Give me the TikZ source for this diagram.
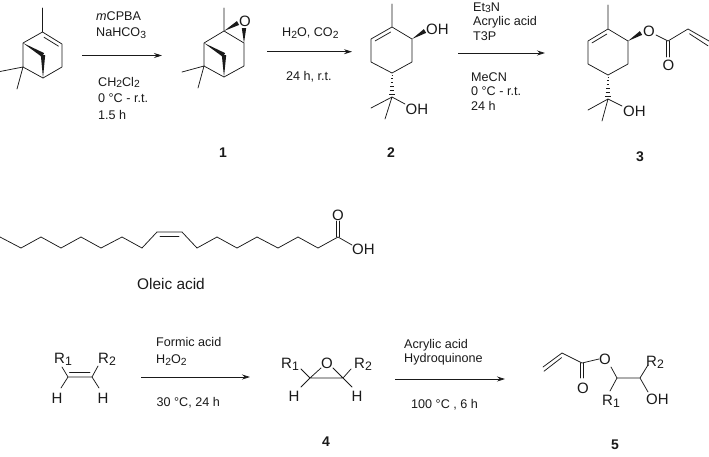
\documentclass[tikz,border=0pt]{standalone}
\usepackage{fontspec}
\setmainfont{Liberation Sans}
\usetikzlibrary{calc,arrows.meta}
\newcommand{\lsub}[1]{\raisebox{-0.28ex}{\scalebox{0.82}{#1}}}
\newcommand{\wedgeb}[3]{\fill[inkc] (#1) -- ($(#2)!#3pt!90:(#1)$) -- ($(#2)!#3pt!-90:(#1)$) -- cycle;}
\newcommand{\hashb}[2]{\foreach \t in {0.08,0.24,0.4,0.56,0.72,0.88}{\draw[inkc,line width=0.7pt] ($(#1)!\t!(#2)+(-\t*3.4,0)$) -- ($(#1)!\t!(#2)+(\t*3.4,0)$);}}
\definecolor{inkc}{HTML}{1A1A1A}
\tikzset{
  bond/.style={draw=inkc,line width=0.75pt,line cap=round,line join=round},
  rxn/.style={draw=inkc,line width=0.8pt,-{Stealth[length=8pt,width=5pt]}},
  cond/.style={anchor=base west,inner sep=0pt,text=inkc,font=\fontsize{12.6}{14}\selectfont},
  atomlab/.style={anchor=base west,inner sep=0pt,text=inkc,font=\fontsize{15}{16}\selectfont},
  atomc/.style={anchor=center,inner sep=0pt,text=inkc,font=\fontsize{15}{16}\selectfont},
  cmpd/.style={anchor=center,inner sep=0pt,text=inkc,font=\fontsize{14}{16}\bfseries\selectfont},
}
\begin{document}
\begin{tikzpicture}[x=1pt,y=-1pt]
\useasboundingbox (0,0) rectangle (709,456);
\fill[white] (0,0) rectangle (709,456);

% --- pinene
\coordinate (pm) at (42.5,8);
\coordinate (p1) at (42.5,32);
\coordinate (p2) at (62,44);
\coordinate (p3) at (62,67);
\coordinate (p4) at (43,78);
\coordinate (p5) at (23,67);
\coordinate (p6) at (23,43);
\coordinate (pt) at (43,55);
\coordinate (pa) at (0,71.5);
\coordinate (pb) at (17,89);
\draw[bond] (pm)--(p1)--(p2)--(p3)--(p4)--(p5)--(p6)--(p1);
\draw[bond] (p5)--(pa) (p5)--(pb);
\draw[bond] ($(p1)!0.14!(p2)+(-1.2,3.6)$)--($(p1)!0.88!(p2)+(-1.2,3.6)$);
\wedgeb{p6}{pt}{2.2}
\wedgeb{p4}{pt}{2.2}

% --- compound 1
\coordinate (am) at (224,8);
\coordinate (a1) at (224,31);
\coordinate (a2) at (244,43);
\coordinate (a3) at (244,66);
\coordinate (a4) at (224,77);
\coordinate (a5) at (204,66);
\coordinate (a6) at (204,43);
\coordinate (at) at (224,55);
\coordinate (ax) at (182,72);
\coordinate (ay) at (198,88);
\node[atomc] (ao) at (245,21) {O};
\draw[bond] (am)--(a1)--(a2)--(a3)--(a4)--(a5)--(a6)--(a1);
\draw[bond] (a5)--(ax) (a5)--(ay);
\wedgeb{a6}{at}{2.2}
\wedgeb{a4}{at}{2.2}
\coordinate (aw1) at (238,23);
\coordinate (aw2) at (244,28);
\wedgeb{a1}{aw1}{2.2}
\wedgeb{a2}{aw2}{2.2}
\node[cmpd] (l1) at (223,153) {1};

% --- compound 2
\coordinate (bm) at (392,4);
\coordinate (b1) at (392,27);
\coordinate (b2) at (412,39);
\coordinate (b3) at (412,62);
\coordinate (b4) at (392,73);
\coordinate (b5) at (371,62);
\coordinate (b6) at (371,39);
\coordinate (bw) at (425,31);
\coordinate (bq) at (392,97);
\coordinate (bx) at (371,108);
\coordinate (by) at (385,119);
\coordinate (bz) at (405,104);
\draw[bond] (bm)--(b1)--(b2)--(b3)--(b4)--(b5)--(b6)--(b1);
\draw[bond] ($(b1)!0.12!(b6)+(1.2,3.6)$)--($(b1)!0.86!(b6)+(1.2,3.6)$);
\wedgeb{b2}{bw}{2.2}
\hashb{b4}{bq}
\draw[bond] (bx)--(bq)--(by) (bq)--(bz);
\node[atomlab] (boh1) at (426,34.5) {OH};
\node[atomlab] (boh2) at (405.5,114.5) {OH};
\node[cmpd] (l2) at (391,153) {2};

% --- compound 3
\coordinate (cm) at (608,5);
\coordinate (c1) at (608,29);
\coordinate (c2) at (628,41);
\coordinate (c3) at (628,64);
\coordinate (c4) at (608,75);
\coordinate (c5) at (588,64);
\coordinate (c6) at (588,41);
\coordinate (cw) at (641,33);
\coordinate (cq) at (608,99);
\coordinate (cx) at (588,110);
\coordinate (cy) at (602,121);
\coordinate (cz) at (622,106);
\coordinate (cc) at (668,41);
\coordinate (cv) at (688,29);
\coordinate (ce) at (709,41);
\coordinate (coa) at (656,35);
\coordinate (cob) at (668,57);
\draw[bond] (cm)--(c1)--(c2)--(c3)--(c4)--(c5)--(c6)--(c1);
\draw[bond] ($(c1)!0.12!(c6)+(1.2,3.6)$)--($(c1)!0.86!(c6)+(1.2,3.6)$);
\wedgeb{c2}{cw}{2.2}
\hashb{c4}{cq}
\draw[bond] (cx)--(cq)--(cy) (cq)--(cz);
\node[atomc] (co1) at (649,31) {O};
\node[atomc] (co2) at (668.5,65) {O};
\draw[bond] (coa)--(cc)--(cv)--(ce);
\draw[bond] ($(cv)+(1.5,4.8)$)--($(ce)+(-1,4.8)$);
\draw[bond] ($(cc)+(-1.7,0)$)--($(cob)+(-1.7,0)$) ($(cc)+(1.7,0)$)--($(cob)+(1.7,0)$);
\node[atomlab] (coh) at (623,116) {OH};
\node[cmpd] (l3) at (640,157) {3};

% --- arrows row 1
\coordinate (r1a) at (82,55.5); \coordinate (r1b) at (162,55.5);
\coordinate (r2a) at (267,51.7); \coordinate (r2b) at (352,51.7);
\coordinate (r3a) at (458,53); \coordinate (r3b) at (545,53);
\draw[rxn] (r1a)--(r1b);
\draw[rxn] (r2a)--(r2b);
\draw[rxn] (r3a)--(r3b);
\node[cond] (t1) at (96,20) {\textit{m}CPBA};
\node[cond] (t2) at (96,36.5) {NaHCO\lsub{3}};
\node[cond] (t3) at (98,86) {CH\lsub{2}Cl\lsub{2}};
\node[cond] (t4) at (98,102.5) {0 °C - r.t.};
\node[cond] (t5) at (98,119) {1.5 h};
\node[cond] (t6) at (282,36.5) {H\lsub{2}O, CO\lsub{2}};
\node[cond] (t7) at (286,80) {24 h, r.t.};
\node[cond] (t8) at (473,11) {Et\lsub{3}N};
\node[cond] (t9) at (473,25.5) {Acrylic acid};
\node[cond] (t10) at (473,40) {T3P};
\node[cond] (t11) at (471,81) {MeCN};
\node[cond] (t12) at (471,95.5) {0 °C - r.t.};
\node[cond] (t13) at (471,110) {24 h};

% --- oleic acid
\coordinate (o0) at (0,237);
\coordinate (o1) at (21,248);
\coordinate (o2) at (41,237);
\coordinate (o3) at (61,248);
\coordinate (o4) at (81,237);
\coordinate (o5) at (101,248);
\coordinate (o6) at (122,237);
\coordinate (o7) at (142,248);
\coordinate (o8) at (157,232);
\coordinate (o9) at (182,232);
\coordinate (o10) at (197,248);
\coordinate (o11) at (217,237);
\coordinate (o12) at (237,248);
\coordinate (o13) at (257,237);
\coordinate (o14) at (278,248);
\coordinate (o15) at (298,237);
\coordinate (o16) at (318,248);
\coordinate (o17) at (338,237);
\coordinate (o18) at (352,245);
\coordinate (o19) at (338,221);
\draw[bond] (o0)--(o1)--(o2)--(o3)--(o4)--(o5)--(o6)--(o7)--(o8)--(o9)--(o10)--(o11)--(o12)--(o13)--(o14)--(o15)--(o16)--(o17)--(o18);
\draw[bond] ($(o8)+(3,4)$)--($(o9)+(-3,4)$);
\draw[bond] ($(o17)+(-1.6,0)$)--($(o19)+(-1.6,0)$) ($(o17)+(1.6,0)$)--($(o19)+(1.6,0)$);
\node[atomc] (oo) at (338,215) {O};
\node[atomlab] (ooh) at (352,254.5) {OH};
\node[anchor=base,inner sep=0pt,text=inkc,font=\fontsize{15.4}{16}\selectfont] (olabel) at (171,289) {Oleic acid};

% --- alkene
\coordinate (d1) at (68,377);
\coordinate (d2) at (92,377);
\coordinate (dr1) at (62,367);
\coordinate (dr2) at (98,366);
\coordinate (dh1) at (61,388);
\coordinate (dh2) at (99,388);
\draw[bond] (d1)--(d2) (d1)--(dr1) (d2)--(dr2) (d1)--(dh1) (d2)--(dh2);
\draw[bond] ($(d1)+(1.5,-4.4)$)--($(d2)+(-2,-4.4)$);
\node[atomlab] (dl1) at (54,363) {R\lsub{1}};
\node[atomlab] (dl2) at (98,363) {R\lsub{2}};
\node[atomc] (dl3) at (57,398) {H};
\node[atomc] (dl4) at (103,398) {H};

% --- compound 4
\coordinate (e1) at (310,378);
\coordinate (e2) at (343,378);
\coordinate (ea) at (321,368);
\coordinate (eb) at (333,368);
\coordinate (er1) at (301,369);
\coordinate (er2) at (351,369);
\coordinate (eh1) at (301,387);
\coordinate (eh2) at (352,387);
\node[atomc] (eo) at (327,363) {O};
\draw[bond] (ea)--(e1)--(e2)--(eb) (e1)--(er1) (e2)--(er2) (e1)--(eh1) (e2)--(eh2);
\node[atomlab] (el1) at (281,368) {R\lsub{1}};
\node[atomlab] (el2) at (354,368) {R\lsub{2}};
\node[atomc] (el3) at (294,396) {H};
\node[atomc] (el4) at (357,396) {H};
\node[cmpd] (l4) at (326,442) {4};

% --- compound 5
\coordinate (f0) at (543,367);
\coordinate (f1) at (562,353);
\coordinate (f2) at (582,363);
\coordinate (f3) at (599,359);
\coordinate (f4) at (611,367);
\coordinate (f5) at (617,378);
\coordinate (f6) at (640,378);
\coordinate (f7) at (648,365);
\coordinate (f8) at (610,391);
\coordinate (f9) at (648,392);
\coordinate (f10) at (582,378);
\draw[bond] (f0)--(f1)--(f2)--(f3) (f4)--(f5)--(f6)--(f7) (f5)--(f8) (f6)--(f9);
\draw[bond] ($(f0)+(1,4.2)$)--($(f1)+(-0.4,4.6)$);
\draw[bond] ($(f2)+(-1.6,0)$)--($(f10)+(-1.6,0)$) ($(f2)+(1.6,0)$)--($(f10)+(1.6,0)$);
\node[atomc] (fo1) at (605,359) {O};
\node[atomc] (fo2) at (583,388) {O};
\node[atomlab] (fl2) at (646,366) {R\lsub{2}};
\node[atomlab] (fl1) at (602,405) {R\lsub{1}};
\node[atomlab] (foh) at (646,404.5) {OH};
\node[cmpd] (l5) at (615,445) {5};

% --- arrows row 3
\coordinate (r4a) at (141,377); \coordinate (r4b) at (250,377);
\coordinate (r5a) at (395,379); \coordinate (r5b) at (505,379);
\draw[rxn] (r4a)--(r4b);
\draw[rxn] (r5a)--(r5b);
\node[cond] (t14) at (156,346) {Formic acid};
\node[cond] (t15) at (156,363.5) {H\lsub{2}O\lsub{2}};
\node[cond] (t16) at (156.5,406.5) {30 °C, 24 h};
\node[cond] (t17) at (404,348) {Acrylic acid};
\node[cond] (t18) at (404,362) {Hydroquinone};
\node[cond] (t19) at (411,408) {100 °C , 6 h};
\end{tikzpicture}
\end{document}
